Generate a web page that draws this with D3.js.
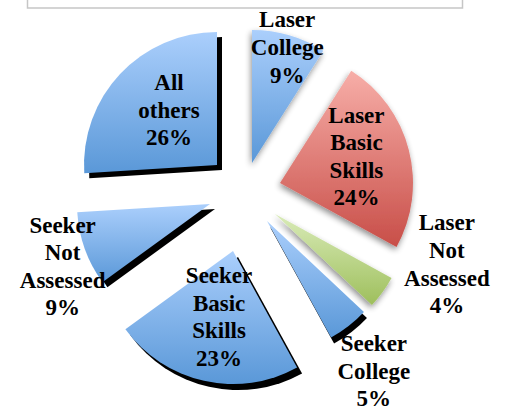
<!DOCTYPE html>
<html>
<head>
<meta charset="utf-8">
<script src="https://cdn.jsdelivr.net/npm/d3@7"></script>
<style>
  html, body { margin: 0; padding: 0; background: #fff; }
  svg { display: block; }
</style>
</head>
<body>
<svg id="chart"></svg>
<script>
// data
const categories = ["Laser College", "Laser Basic Skills", "Laser Not Assessed",
  "Seeker College", "Seeker Basic Skills", "Seeker Not Assessed", "All others"];
const labelLines = [["Laser", "College"], ["Laser", "Basic", "Skills"], ["Laser", "Not", "Assessed"],
  ["Seeker", "College"], ["Seeker", "Basic", "Skills"], ["Seeker", "Not", "Assessed"], ["All", "others"]];
const shares = [9, 24, 4, 5, 23, 9, 26];

// layout (hand-placed slices, like the original)
const width = 506, height = 419;
const center = [245, 195];
const radius = 133;
const sliceOffset = [[7, -32], [35, -12], [30, 19], [22, 26], [-12, 56], [-35, 9], [-28, -30]];
const labelPolar = [[121, 16.9], [81, 70.7], [179, 106.2], [184, 144.5], [67, 192], [160, 247.1], [73, 318.9]];
const palette = ["blue", "red", "green", "blue", "blue", "blue", "blue"];
const shadowKind = ["soft", "soft", "soft", "hard", "hard", "hard", "hard"];
const hardShadow = [null, null, null, [3, 6], [5, 6], [5, 5], [5, 5]];

const gradients = {
  blue: ["#abcffc", "#5a98d8"],
  red: ["#f7aea8", "#c84e48"],
  green: ["#d9ebb8", "#9ebf5c"]
};

const svg = d3.select("#chart").attr("width", width).attr("height", height);
const defs = svg.append("defs");

Object.entries(gradients).forEach(([k, [c0, c1]]) => {
  const g = defs.append("linearGradient")
    .attr("id", "grad-" + k)
    .attr("x1", 0).attr("y1", 0).attr("x2", 0).attr("y2", 1);
  g.append("stop").attr("offset", "0%").attr("stop-color", c0);
  g.append("stop").attr("offset", "100%").attr("stop-color", c1);
});

const soft = defs.append("filter").attr("id", "soft-shadow")
  .attr("x", "-30%").attr("y", "-30%").attr("width", "160%").attr("height", "160%");
soft.append("feGaussianBlur").attr("in", "SourceAlpha").attr("stdDeviation", 3);
soft.append("feOffset").attr("dx", -1).attr("dy", 3).attr("result", "b");
soft.append("feComponentTransfer").append("feFuncA").attr("type", "linear").attr("slope", 0.45);
const merge = soft.append("feMerge");
merge.append("feMergeNode");
merge.append("feMergeNode").attr("in", "SourceGraphic");

// top box (legend/title frame cut off at the top)
svg.append("rect")
  .attr("x", 27.5).attr("y", -20)
  .attr("width", 435).attr("height", 28)
  .attr("fill", "none")
  .attr("stroke", "#c6c6c6")
  .attr("stroke-width", 1.5);

const pie = d3.pie().sort(null).value(d => d)(shares);
const arc = d3.arc().innerRadius(0).outerRadius(radius);

const slices = svg.selectAll("g.slice")
  .data(pie)
  .join("g")
  .attr("class", "slice")
  .attr("transform", (d, i) => `translate(${center[0] + sliceOffset[i][0]},${center[1] + sliceOffset[i][1]})`);

slices.each(function (d, i) {
  const g = d3.select(this);
  if (shadowKind[i] === "hard") {
    g.append("path")
      .attr("d", arc(d))
      .attr("transform", `translate(${hardShadow[i][0]},${hardShadow[i][1]})`)
      .attr("fill", "#000");
  }
  const p = g.append("path")
    .attr("d", arc(d))
    .attr("fill", `url(#grad-${palette[i]})`);
  if (shadowKind[i] === "soft") p.attr("filter", "url(#soft-shadow)");
});

// labels
const lineH = 27.6;
slices.each(function (d, i) {
  const [r, deg] = labelPolar[i];
  const a = deg * Math.PI / 180;
  const cx = r * Math.sin(a), cy = -r * Math.cos(a);
  const lines = labelLines[i].concat([d3.format("d")(shares[i]) + "%"]);
  const y0 = cy - (lines.length - 1) / 2 * lineH + 7.8;
  const t = d3.select(this).append("text")
    .attr("text-anchor", "middle")
    .attr("font-family", "'Liberation Serif', 'Times New Roman', serif")
    .attr("font-weight", "bold")
    .attr("font-size", 23)
    .attr("fill", "#000");
  lines.forEach((s, j) => {
    t.append("tspan").attr("x", cx).attr("y", y0 + j * lineH).text(s);
  });
});
</script>
</body>
</html>
